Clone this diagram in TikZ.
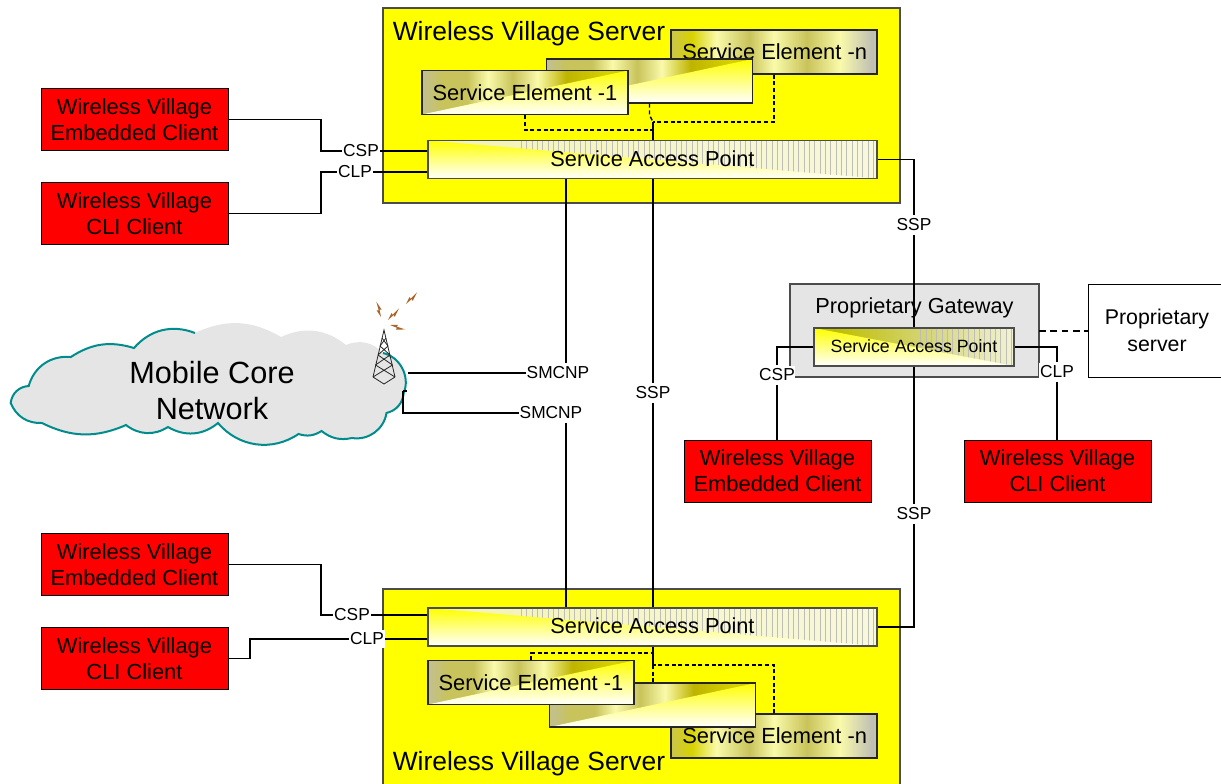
\documentclass[tikz,border=0pt]{standalone}
\usepackage{fontspec}
\setmainfont{Liberation Sans}
\definecolor{wvyellow}{RGB}{255,255,0}
\definecolor{wvred}{RGB}{255,0,0}
\definecolor{bandlight}{RGB}{236,236,230}
\definecolor{bandgray}{RGB}{190,190,180}
\definecolor{bandmid}{RGB}{200,195,90}
\definecolor{bandolive}{RGB}{190,180,0}
\definecolor{bandyolive}{RGB}{215,210,0}
\definecolor{bandpale}{RGB}{250,250,170}
\definecolor{sapleft}{RGB}{240,240,150}
\definecolor{sapright}{RGB}{250,250,238}
\definecolor{gwolive}{RGB}{190,190,0}
\definecolor{gwmid}{RGB}{215,215,130}
\definecolor{gwpale}{RGB}{242,242,215}
\definecolor{cloudteal}{RGB}{0,140,140}
\pgfdeclarehorizontalshading{seband}{100bp}{color(0bp)=(bandlight); color(3bp)=(bandgray); color(6bp)=(bandlight); color(10bp)=(bandgray); color(22bp)=(bandgray); color(30bp)=(bandmid); color(36bp)=(bandmid); color(41bp)=(bandpale); color(47bp)=(bandmid); color(53bp)=(bandpale); color(60bp)=(bandolive); color(70bp)=(bandyolive); color(80bp)=(bandolive); color(100bp)=(bandyolive)}
\pgfdeclarehorizontalshading{senband}{100bp}{color(0bp)=(bandolive); color(8bp)=(bandyolive); color(14bp)=(bandolive); color(24bp)=(bandmid); color(30bp)=(bandyolive); color(36bp)=(bandpale); color(44bp)=(bandmid); color(50bp)=(bandpale); color(58bp)=(bandmid); color(66bp)=(bandpale); color(74bp)=(bandgray); color(80bp)=(bandpale); color(88bp)=(bandgray); color(94bp)=(bandlight); color(100bp)=(bandgray)}
\pgfdeclarehorizontalshading{sapband}{100bp}{color(0bp)=(sapleft); color(50bp)=(sapright!60!sapleft); color(100bp)=(sapright)}
\pgfdeclarehorizontalshading{gwband}{100bp}{color(0bp)=(wvyellow); color(30bp)=(gwolive); color(55bp)=(gwmid); color(75bp)=(gwpale); color(100bp)=(sapright)}
\tikzset{
  every picture/.style={line width=0.75pt},
  wvserver/.style={draw=black!70,fill=wvyellow,line width=1pt,inner sep=0pt},
  sebox/.style={draw=black!85,line width=1pt,inner sep=0pt,minimum width=154.5pt,minimum height=33pt,font=\fontsize{16.4}{18}\selectfont,shading=seband},
  selower/.style={path picture={\shade[top color=wvyellow,bottom color=white] (path picture bounding box.south west) -- (path picture bounding box.north east) -- (path picture bounding box.south east) -- cycle;}},
  sapbox/.style n args={3}{draw=black!70,line width=1pt,inner sep=0pt,text depth=1.5pt,minimum height=28.5pt,shading=sapband,path picture={
    \foreach \sx in {#1,#2,...,#3}{\draw[bandgray,line width=0.5pt] ([xshift=\sx pt]path picture bounding box.south west) -- ([xshift=\sx pt]path picture bounding box.north west);}
    \shade[top color=wvyellow,bottom color=white] (path picture bounding box.north west) -- (path picture bounding box.south east) -- (path picture bounding box.south west) -- cycle;}},
  clientbox/.style={draw=black,fill=wvred,line width=0.75pt,inner sep=0pt,minimum width=140.25pt,minimum height=46.5pt,align=center,font=\fontsize{16.4}{19.5}\selectfont},
  protlabel/.style={fill=white,inner xsep=0.5pt,inner ysep=2.5pt,font=\fontsize{13}{15}\selectfont},
  conn/.style={draw=black,line width=1.1pt},
  dashconn/.style={draw=black,line width=1.1pt,dash pattern=on 3pt off 2pt},
  bolt/.style={fill={rgb,255:red,170;green,100;blue,40}}
}
\begin{document}
\begin{tikzpicture}[x=0.75pt,y=0.75pt,yscale=-1,xscale=1]
\useasboundingbox (0,0) rectangle (1221,783);
\clip (0,0) rectangle (1221,783);

%Cloud
\fill[black!10] (10.7,403) to[bend right=40] (28.7,386) to[bend right=40] (70.8,357) to[bend right=25] (134,348) to[bend right=35] (195,333) to[bend right=28] (281,337) to[bend right=32] (346,345) to[bend right=35] (383,353) to[bend right=50] (403.7,393) to[bend right=35] (386.5,413) to[bend right=45] (352,438) to[bend right=25] (321.5,431) to[bend right=25] (298.5,434) to[bend right=42] (218,423) to[bend right=35] (168,427) to[bend right=35] (126,425) to[bend right=25] (42,423) to[bend right=35] cycle;
\draw[cloudteal,line width=1.5pt] (383,353) to[bend right=50] (403.7,393) to[bend right=35] (386.5,413) to[bend right=45] (352,438) to[bend right=25] (321.5,431) to[bend right=25] (298.5,434) to[bend right=42] (218,423) to[bend right=35] (168,427) to[bend right=35] (126,425) to[bend right=25] (42,423) to[bend right=35] (10.7,403) to[bend right=40] (28.7,386) to[bend right=40] (70.8,357) to[bend right=25] (134,348) to[bend right=35] (195,333);
\node (cloudtxt) at (212,391) [align=center,font=\fontsize{23}{27}\selectfont] {Mobile Core\\Network};

%Tower
\coordinate (tower) at (408,372);
\draw[black!85,line width=0.6pt] (373,377) -- (384,330) -- (395,377) (373,377) -- (384,384) -- (395,377);
\foreach \ya/\wa/\yb/\wb in {338/2/346/4,346/4/355/6,355/6/365/8.5,365/8.5/377/11}{
  \draw[black!85,line width=0.6pt] (384-\wa,\ya) -- (384+\wb,\yb) (384+\wa,\ya) -- (384-\wb,\yb);
}
%Bolts
\foreach \bx/\by/\ba in {381/317/-105,388/320/-45,406/304/-45,390/325/18}{
  \fill[bolt,shift={(\bx,\by)},rotate=\ba] (0,0) -- (7.5,-2.5) -- (7,-0.5) -- (16,-0.5) -- (7,2.5) -- (7.5,0.5) -- cycle;
}

%Servers
\node (server1) [wvserver,minimum width=387.75pt,minimum height=146.25pt] at (641.5,105.5) {};
\node (server2) [wvserver,minimum width=387.75pt,minimum height=150pt] at (641.5,689) {};
\node (svrtxt1) at (529,34) [font=\fontsize{19.8}{23}\selectfont] {Wireless Village Server};
\node (svrtxt2) at (529,764) [font=\fontsize{19.8}{23}\selectfont] {Wireless Village Server};

%Gateway and proprietary server
\node (gateway) [draw=black!70,fill=black!10,line width=0.9pt,minimum width=186.75pt,minimum height=69.75pt,inner sep=0pt] at (914.5,330.5) {};
\node (gwtxt) at (914.5,308) [font=\fontsize{16.3}{19}\selectfont] {Proprietary Gateway};
\node (propsrv) [draw=black,line width=0.75pt,fill=white,minimum width=103.5pt,minimum height=69.75pt,inner sep=0pt,align=center,font=\fontsize{16}{20}\selectfont] at (1157,330.5) {Proprietary\\server};
\coordinate (dashl) at (1039,331);
\draw[dashconn,dash pattern=on 5pt off 3.5pt] (dashl) -- (propsrv.west |- dashl);

%Service elements
\node (sent) [sebox,shading=senband] at (774,52) {\hspace*{1pt}Service Element -n};
\node (semt) [sebox,selower] at (649.5,81) {};
\node (se1t) [sebox,selower] at (525,92.5) {Service Element -1};
\node (senb) [sebox,shading=senband] at (774,736) {\hspace*{1pt}Service Element -n};
\node (semb) [sebox,selower] at (652.5,705) {};
\node (se1b) [sebox,selower] at (531,682.5) {Service Element -1};

%Access points
\node (sap1) [sapbox={70}{74}{336},minimum width=336.75pt,font=\fontsize{16.3}{19}\selectfont] at (652.5,159.5) {Service Access Point};
\node (sap2) [sapbox={70}{74}{336},minimum width=336.75pt,font=\fontsize{16.3}{19}\selectfont] at (652.5,627) {Service Access Point};
\node (gwsap) [sapbox={80}{84}{150},shading=gwband,minimum width=150pt,font=\fontsize{13.3}{16}\selectfont] at (914,347) {Service Access Point};

%Clients
\node (emb1) [clientbox] at (134.5,119.5) {Wireless Village\\Embedded Client};
\node (cli1) [clientbox] at (134.5,213.5) {Wireless Village\\CLI Client};
\node (emb2) [clientbox] at (134.5,564.5) {Wireless Village\\Embedded Client};
\node (cli2) [clientbox] at (134.5,658.5) {Wireless Village\\CLI Client};
\node (emb3) [clientbox] at (777.5,471) {Wireless Village\\Embedded Client};
\node (cli3) [clientbox] at (1057.5,471) {Wireless Village\\CLI Client};

%Protocol labels
\node (csp1) [protlabel] at (361,151) {CSP};
\node (clp1) [protlabel] at (355,172) {CLP};
\node (csp2) [protlabel] at (352,615) {CSP};
\node (clp2) [protlabel] at (367,639) {CLP};
\node (csp3) [protlabel] at (777,375) {CSP};
\node (clp3) [protlabel] at (1057,372) {CLP};
\node (smcnp1) [protlabel] at (558,373) {SMCNP};
\node (smcnp2) [protlabel] at (551,413) {SMCNP};
\node (ssp1) [protlabel] at (653,393) {SSP};
\node (ssp2) [protlabel] at (914,225) {SSP};
\node (ssp3) [protlabel] at (914,514) {SSP};

%Connectors
\coordinate (busl) at (321,300);
\coordinate (busb) at (250,640);
\draw[conn] (emb1.east) -| (busl |- csp1.west) -- (csp1.west);
\draw[conn] (csp1.east) -- (csp1 -| sap1.west);
\draw[conn] (cli1.east) -| (busl |- clp1.west) -- (clp1.west);
\draw[conn] (clp1.east) -- (clp1 -| sap1.west);
\draw[conn] (emb2.east) -| (busl |- csp2.west) -- (csp2.west);
\draw[conn] (csp2.east) -- (csp2 -| sap2.west);
\draw[conn] (cli2.east) -| (busb |- clp2.west) -- (clp2.west);
\draw[conn] (clp2.east) -- (clp2 -| sap2.west);
\draw[conn] (csp3.north) |- (gwsap.west);
\draw[conn] (csp3.south) -- (csp3 |- emb3.north);
\draw[conn] (clp3.north) |- (gwsap.east);
\draw[conn] (clp3.south) -- (clp3 |- cli3.north);
\coordinate (smline) at (566,300);
\draw[conn] (smline |- sap1.south) -- (smline |- smcnp1.north);
\draw[conn] (smline |- smcnp2.south) -- (smline |- sap2.north);
\draw[conn] (ssp1 |- sap1.south) -- (ssp1.north);
\draw[conn] (ssp1.south) -- (ssp1 |- sap2.north);
\draw[conn] (sap1.east) -| (ssp2.north);
\draw[conn] (ssp2.south) -- (gwsap.north);
\draw[conn] (gwsap.south) -- (ssp3.north);
\draw[conn] (ssp3.south) |- (sap2.east);
\draw[conn] (tower |- smcnp1.west) -- (smcnp1.west);
\coordinate (towerb) at (403,391);
\draw[conn] (towerb) -- (407,391) (towerb) |- (smcnp2.west);

%Inner dashed links
\coordinate (join1t) at (653,130);
\coordinate (join2t) at (653,122);
\draw[dashconn] (se1t.south) |- (join1t);
\draw[dashconn] (sent.south) |- (join2t);
\draw[dashconn] (semt.south) -- (649.5,115) -- (join2t);
\draw[conn] (join2t) -- (join2t |- sap1.north);
\coordinate (join1b) at (653,653);
\coordinate (join2b) at (653,665);
\draw[dashconn] (se1b.north) |- (join1b);
\draw[dashconn] (senb.north) |- (join2b);
\draw[dashconn] (join2b) -- (join2b |- semb.north);
\draw[conn] (join2b |- sap2.south) -- (join2b);
\end{tikzpicture}
\end{document}
